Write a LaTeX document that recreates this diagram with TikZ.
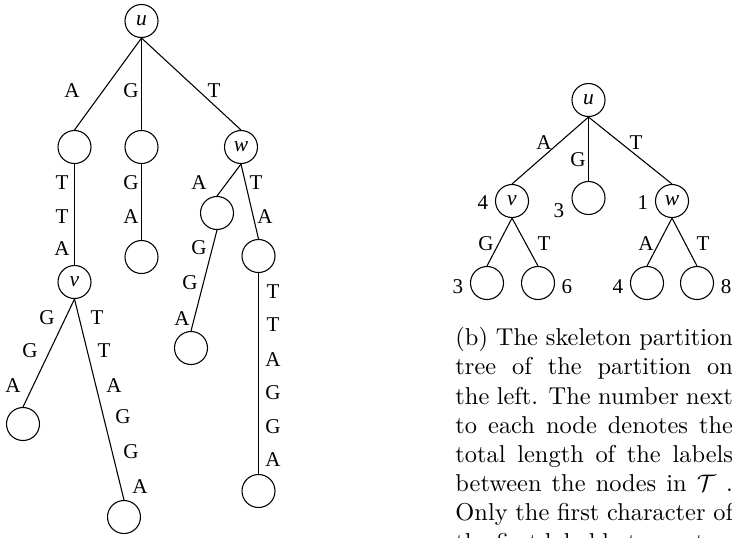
\documentclass[tikz,border=0pt]{standalone}
\usepackage{fontspec}
\newfontfamily\treefont{Liberation Serif}
\begin{document}
\begin{tikzpicture}[x=0.418pt,y=-0.418pt,
  vertex/.style={circle,draw,line width=0.45pt,minimum size=13.8pt,inner sep=0pt,
    font=\treefont\fontsize{9}{10}\selectfont\itshape},
  edgelab/.style={inner sep=0pt,font=\treefont\fontsize{8.8}{10}\selectfont},
  branch/.style={line width=0.45pt}]
\clip (0,0) rectangle (732,537);

% ---------- full partition tree ----------
\node[vertex] (u)   at (141.5,21)  {u};
\node[vertex] (nA)  at (74.5,147)  {};
\node[vertex] (nG)  at (141.5,147) {};
\node[vertex] (w)   at (241,147)   {w};
\node[vertex] (v)   at (74.5,282)  {v};
\node[vertex] (nGA) at (141.5,257) {};
\node[vertex] (wl)  at (217,213)   {};
\node[vertex] (wr)  at (258.5,256) {};
\node[vertex] (wll) at (191,348)   {};
\node[vertex] (wrr) at (258.5,491) {};
\node[vertex] (vl)  at (23,424)    {};
\node[vertex] (vr)  at (124,517)   {};

\foreach \a/\b in {u/nA,u/nG,u/w,nA/v,nG/nGA,w/wl,w/wr,wl/wll,wr/wrr,v/vl,v/vr}
  \draw[branch] (\a.south) -- (\b.north);

\node[edgelab] (e1) at (72,91)  {A};
\node[edgelab] (e2) at (131,91) {G};
\node[edgelab] (e3) at (214,91) {T};
\node[edgelab] (e4) at (62,183) {T};
\node[edgelab] (e5) at (62,217) {T};
\node[edgelab] (e6) at (62,249) {A};
\node[edgelab] (e7) at (131,183) {G};
\node[edgelab] (e8) at (131,217) {A};
\node[edgelab] (e9) at (199,183) {A};
\node[edgelab] (e10) at (256,183) {T};
\node[edgelab] (e11) at (265,217) {A};
\node[edgelab] (e12) at (199,248) {G};
\node[edgelab] (e13) at (190,283) {G};
\node[edgelab] (e14) at (182,319) {A};
\node[edgelab] (e15) at (273,292) {T};
\node[edgelab] (e16) at (273,325) {T};
\node[edgelab] (e17) at (273,360) {A};
\node[edgelab] (e18) at (273,393) {G};
\node[edgelab] (e19) at (273,427) {G};
\node[edgelab] (e20) at (273,460) {A};
\node[edgelab] (e21) at (47,318) {G};
\node[edgelab] (e22) at (30,351) {G};
\node[edgelab] (e23) at (13,386) {A};
\node[edgelab] (e24) at (97,318) {T};
\node[edgelab] (e25) at (104,351) {T};
\node[edgelab] (e26) at (114,386) {A};
\node[edgelab] (e27) at (123,417) {G};
\node[edgelab] (e28) at (131,452) {G};
\node[edgelab] (e29) at (140,487) {A};

% ---------- skeleton partition tree ----------
\node[vertex] (su)  at (588.5,100) {u};
\node[vertex] (sv)  at (512,201)   {v};
\node[vertex] (sg)  at (588.5,198) {};
\node[vertex] (sw)  at (672,201)   {w};
\node[vertex] (svl) at (487,283)   {};
\node[vertex] (svr) at (538,283)   {};
\node[vertex] (swl) at (647,283)   {};
\node[vertex] (swr) at (697,283)   {};

\foreach \a/\b in {su/sv,su/sg,su/sw,sv/svl,sv/svr,sw/swl,sw/swr}
  \draw[branch] (\a.south) -- (\b.north);

\node[edgelab] (s1) at (544,143) {A};
\node[edgelab] (s2) at (578,160) {G};
\node[edgelab] (s3) at (636,143) {T};
\node[edgelab] (s4) at (486,244) {G};
\node[edgelab] (s5) at (544,244) {T};
\node[edgelab] (s6) at (646,244) {A};
\node[edgelab] (s7) at (703,244) {T};

\node[edgelab] (n1) at (483,203) {4};
\node[edgelab] (n2) at (559,211) {3};
\node[edgelab] (n3) at (643,203) {1};
\node[edgelab] (n4) at (458,287) {3};
\node[edgelab] (n5) at (567,287) {6};
\node[edgelab] (n6) at (618,287) {4};
\node[edgelab] (n7) at (726,287) {8};

% ---------- caption ----------
\node[anchor=north west,inner sep=0pt,text width=116pt,align=justify,
      font=\fontsize{10.2}{12.2}\selectfont] (cap) at (455,327)
  {\hyphenpenalty=10000 \exhyphenpenalty=10000
   (b) The skeleton partition\linebreak tree of the partition on\linebreak
   the left. The number next\linebreak to each node denotes the\linebreak
   total length of the labels\linebreak between the nodes in $\mathcal{T}$ .\linebreak
   Only the first character of\linebreak the first label between two nodes
   is stored.};
\end{tikzpicture}
\end{document}
